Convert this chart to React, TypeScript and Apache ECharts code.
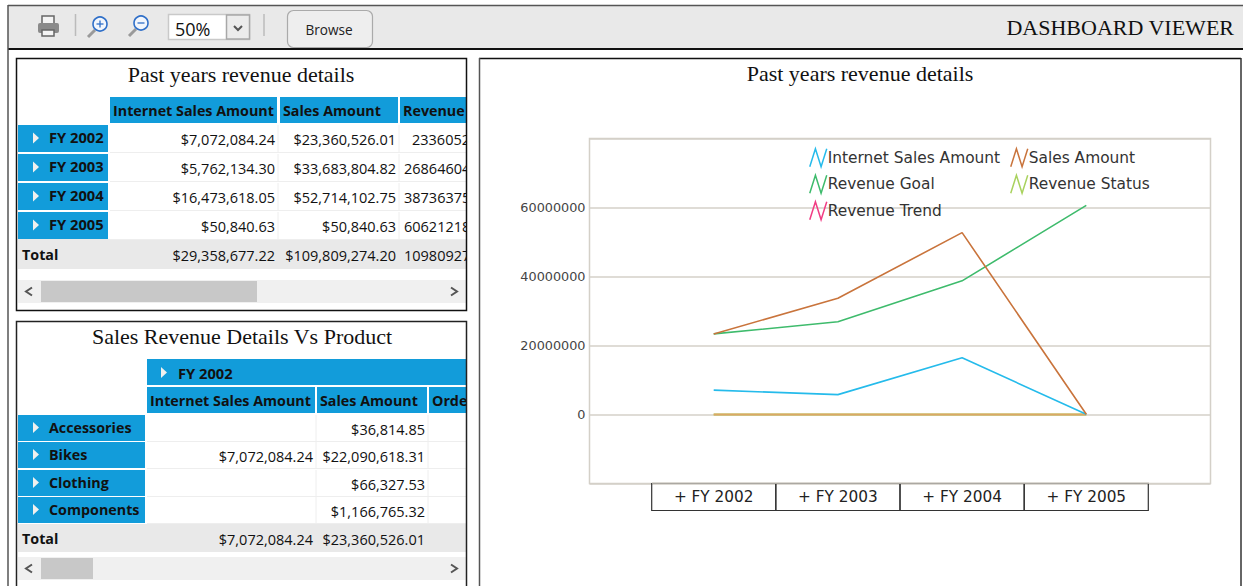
import React, { useEffect, useRef } from "react";
import * as echarts from "echarts";

const chartTitle = "Past years revenue details";
const productTitle = "Sales Revenue Details Vs Product";
const viewerTitle = "DASHBOARD VIEWER";
const zoomLevel = "50%";
const browseLabel = "Browse";

const axisCategories = ["", "FY 2002", "FY 2003", "FY 2004", "FY 2005", ""];
const internetSales = [null, 7072084.24, 5762134.3, 16473618.05, 50840.63, null];
const salesAmount = [null, 23360526.01, 33683804.82, 52714102.75, 50840.63, null];
const revenueGoal = [null, 23360520, 26864604, 38736375, 60621218, null];
const revenueStatus = [null, 0, 0, 0, 0, null];
const revenueTrend = [null, 0, 0, 0, 0, null];

const yearHeaders = ["Internet Sales Amount", "Sales Amount", "Revenue"];
const yearRows = ["FY 2002", "FY 2003", "FY 2004", "FY 2005"];
const yearInternet = ["$7,072,084.24", "$5,762,134.30", "$16,473,618.05", "$50,840.63", "$29,358,677.22"];
const yearSales = ["$23,360,526.01", "$33,683,804.82", "$52,714,102.75", "$50,840.63", "$109,809,274.20"];
const yearRevenue = ["23360526", "26864604", "38736375", "60621218", "10980927"];

const productHeaders = ["Internet Sales Amount", "Sales Amount", "Orde"];
const productRows = ["Accessories", "Bikes", "Clothing", "Components"];
const productInternet = ["", "$7,072,084.24", "", "", "$7,072,084.24"];
const productSales = ["$36,814.85", "$22,090,618.31", "$66,327.53", "$1,166,765.32", "$23,360,526.01"];

const BLUE = "#129cda";
const UI = '"Open Sans", "Noto Sans", sans-serif';
const SERIF = '"Liberation Serif", serif';
const VERD = '"DejaVu Sans", sans-serif';

const rect = (x: number, y: number, w: number, h: number, fill: string, z = 1, extra: any = {}) => ({
  type: "rect", z, shape: { x, y, width: w, height: h, ...(extra.shape || {}) },
  style: { fill, stroke: extra.stroke, lineWidth: extra.lineWidth },
});
const text = (x: number, y: number, t: string, font: string, fill = "#111", align = "left", z = 10) => ({
  type: "text", z, x, y, style: { text: t, font, fill, align, verticalAlign: "middle" },
});
const seg = (x1: number, y1: number, x2: number, y2: number, stroke: string, lineWidth = 1, z = 30) => ({
  type: "line", z, shape: { x1, y1, x2, y2 }, style: { stroke, lineWidth },
});
const poly = (pts: number[][], fill: string, z = 11) => ({ type: "polygon", z, shape: { points: pts }, style: { fill } });
const chevron = (pts: number[][], stroke: string, lineWidth = 2, z = 11) => ({
  type: "polyline", z, shape: { points: pts }, style: { stroke, lineWidth, fill: "none" },
});

const HDR = `bold 14.3px ${UI}`;
const CELL = `14.5px ${UI}`;

function table(cfg: {
  rowX: number; rowW: number; cols: number[][]; headY: number; headH: number; headers: string[];
  rowYs: number[]; rowH: number; rows: string[]; a: string[]; b: string[]; c?: string[];
  totalY: number; totalH: number; sbY: number; thumbW: number; rowFont: string; rowDy: number;
}) {
  const out: any[] = [];
  cfg.cols.forEach((c, i) => {
    out.push(rect(c[0], cfg.headY, c[1] - c[0], cfg.headH, BLUE));
    out.push(text(c[0] + 3, cfg.headY + cfg.headH / 2, cfg.headers[i], HDR));
  });
  const right = 466;
  const cellText = (col: number[], val: string, cy: number, leftAlign: boolean, indent = 0) =>
    val ? text(leftAlign ? col[0] + 4 + indent : col[1] - 2, cy, val, CELL, "#111", leftAlign ? "left" : "right") : null;
  cfg.rows.forEach((r, i) => {
    const y = cfg.rowYs[i];
    const cy = y + cfg.rowH / 2;
    out.push(rect(cfg.rowX, y, cfg.rowW, cfg.rowH, BLUE));
    out.push(poly([[33, cy - 6], [33, cy + 5], [39, cy - 0.5]], "#f0f0ee"));
    out.push(text(49, cy + cfg.rowDy, r, cfg.rowFont));
    out.push(seg(cfg.cols[0][0], y + cfg.rowH + 0.5, right, y + cfg.rowH + 0.5, "#eeeeee", 1, 2));
    cfg.cols.forEach((c, k) => {
      if (k < 2) out.push(seg(c[1] + 1, y, c[1] + 1, y + cfg.rowH, "#eeeeee", 1, 2));
    });
    [cfg.a, cfg.b].forEach((arr, k) => {
      const t = cellText(cfg.cols[k], arr[i], cy + 1, false);
      if (t) out.push(t);
    });
    if (cfg.c) out.push(cellText(cfg.cols[2], cfg.c[i], cy + 1, true, i === 0 ? 8 : 0));
  });
  out.push(rect(cfg.rowX, cfg.totalY, right - cfg.rowX, cfg.totalH, "#e9e9e9"));
  out.push(text(22, cfg.totalY + cfg.totalH / 2, "Total", HDR));
  [cfg.a, cfg.b].forEach((arr, k) => {
    out.push(cellText(cfg.cols[k], arr[4], cfg.totalY + cfg.totalH / 2 + 1, false));
  });
  if (cfg.c) out.push(cellText(cfg.cols[2], cfg.c[4], cfg.totalY + cfg.totalH / 2 + 1, true));
  // scrollbar
  out.push(rect(cfg.rowX, cfg.sbY, right - cfg.rowX, 23, "#f0f0f0"));
  out.push(rect(41, cfg.sbY + 1, cfg.thumbW, 21, "#c8c8c8", 2));
  const m = cfg.sbY + 11.5;
  out.push(chevron([[32, m - 4], [26, m], [32, m + 4]], "#555"));
  out.push(chevron([[451, m - 4], [457, m], [451, m + 4]], "#555"));
  return out.filter(Boolean);
}

const magnifier = (cx: number, cy: number, sign: string) => [
  { type: "circle", z: 5, shape: { cx, cy, r: 7 }, style: { fill: "#f2f6fc", stroke: "#2f6fc8", lineWidth: 1.6 } },
  seg(cx - 5, cy + 6, cx - 12, cy + 13, "#9a9a9a", 3, 4),
  seg(cx - 3.5, cy, cx + 3.5, cy, "#2f6fc8", 1.3, 6),
  ...(sign === "+" ? [seg(cx, cy - 3.5, cx, cy + 3.5, "#2f6fc8", 1.3, 6)] : []),
];

function buildGraphic() {
  const els: any[] = [
    // toolbar
    rect(8, 5, 1235, 43, "#e9e9e9"),
    seg(8, 5.5, 1243, 5.5, "#555", 1.5),
    seg(8, 49, 1243, 49, "#111", 2),
    seg(8, 5, 8, 586, "#555", 1.5),
    // printer
    rect(42, 16, 12, 8, "#f4f4f4", 3, { stroke: "#666", lineWidth: 1.5 }),
    rect(38, 23, 21, 10, "#8a8a8a", 3, { shape: { r: 2 } }),
    rect(42, 30, 12, 6, "#f4f4f4", 4, { stroke: "#666", lineWidth: 1.5 }),
    seg(75.5, 14, 75.5, 36, "#bbbbbb", 1.5),
    ...magnifier(100, 24, "+"),
    ...magnifier(141, 23, "-"),
    // zoom combo
    rect(168.5, 14.5, 81, 25, "#ffffff", 3, { stroke: "#c9c9c9", lineWidth: 1.5 }),
    rect(226.5, 15, 23, 24, "#ececec", 4, { stroke: "#a8a8a8", lineWidth: 1.5 }),
    chevron([[234, 26], [238, 30], [242, 26]], "#555", 2, 5),
    text(175, 29, zoomLevel, `18px ${UI}`, "#111"),
    seg(264, 14, 264, 36, "#bbbbbb", 1.5),
    // browse button
    { type: "rect", z: 3, shape: { x: 287.5, y: 10.5, width: 85, height: 37, r: 6 }, style: { fill: "#eeeeee", stroke: "#aaaaaa", lineWidth: 1.2 } },
    text(329, 29, browseLabel, `13.6px ${UI}`, "#222", "center"),
    text(1234, 27.5, viewerTitle, `22px ${SERIF}`, "#111", "right"),
    // table panel 1
    text(241, 74, chartTitle, `22px ${SERIF}`, "#111", "center"),
    ...table({
      rowX: 18, rowW: 90, cols: [[110, 277], [280, 398], [400, 470]], headY: 97, headH: 26, headers: yearHeaders,
      rowYs: [125, 154, 183, 212], rowH: 27, rows: yearRows, a: yearInternet, b: yearSales, c: yearRevenue,
      totalY: 239, totalH: 30, sbY: 280, thumbW: 216, rowFont: `bold 14.7px ${UI}`, rowDy: -2,
    }),
    // table panel 2
    text(242, 336.5, productTitle, `22px ${SERIF}`, "#111", "center"),
    rect(147, 359, 323, 26, BLUE),
    poly([[161, 367], [161, 378], [167, 372.5]], "#f0f0ee"),
    text(178, 373, "FY 2002", `bold 14.7px ${UI}`),
    ...table({
      rowX: 18, rowW: 127, cols: [[147, 315], [317, 427], [429, 470]], headY: 387, headH: 26, headers: productHeaders,
      rowYs: [415, 442, 470, 497], rowH: 26, rows: productRows, a: productInternet, b: productSales,
      totalY: 524, totalH: 28, sbY: 557, thumbW: 52, rowFont: `bold 14.3px ${UI}`, rowDy: -0.5,
    }),
    // clip edge for the cut-off column and the panel borders
    rect(467, 55, 11, 531, "#ffffff", 20),
    { type: "rect", z: 30, shape: { x: 16.5, y: 58.5, width: 450, height: 252 }, style: { fill: "none", stroke: "#111", lineWidth: 1.5 } },
    { type: "rect", z: 30, shape: { x: 16.5, y: 321.5, width: 450, height: 270 }, style: { fill: "none", stroke: "#222", lineWidth: 1.5 } },
    // chart panel
    seg(479, 58.5, 1241, 58.5, "#111", 1.5),
    seg(479.5, 58, 479.5, 586, "#555", 1.5),
    seg(1241, 58, 1241, 586, "#333", 1.5),
    // plot edge hides the top edge of the category boxes
    seg(652, 483, 1149, 483, "#d4d0c8", 1.5, 100),
  ];
  return els;
}

const legendIcon = "path://M0 18L5.67 0L11.33 18L17 0";
const legendBase = (left: number, top: number, names: any[]) => ({
  left, top, padding: 0, orient: "vertical" as const, itemWidth: 17, itemHeight: 18, itemGap: 7, selectedMode: false,
  textStyle: { fontFamily: VERD, fontSize: 15.4, color: "#333", padding: [0, 0, 0, -4] },
  icon: legendIcon,
  data: names,
});
const iconStyle = (c: string) => ({ icon: legendIcon, itemStyle: { color: "transparent", borderColor: c, borderWidth: 1.5 } });

const COLORS = { internet: "#25bbeb", sales: "#c9743c", goal: "#3ebb6c", status: "#a9d25e", trend: "#f23c84", zero: "#dca865" };

export default function App() {
  const ref = useRef<HTMLDivElement>(null);
  useEffect(() => {
    document.body.style.margin = "0";
    document.body.style.background = "#ffffff";
    const chart = echarts.init(ref.current!, undefined, { renderer: "svg" });
    const line = (name: string, data: any[], color: string, width = 1.6) => ({
      name, type: "line", data, showSymbol: false, symbol: "none", connectNulls: false,
      itemStyle: { color }, lineStyle: { color, width },
    });
    chart.setOption({
      animation: false,
      backgroundColor: "#ffffff",
      title: {
        text: chartTitle, left: 855, top: 57.5, textAlign: "center",
        textStyle: { fontFamily: SERIF, fontSize: 22, fontWeight: "normal", color: "#111" },
      },
      grid: {
        left: 589.5, top: 138.5, width: 621, height: 345, show: true, outerBoundsMode: "none", containLabel: false,
        borderColor: "#d4d0c8", borderWidth: 1.5, backgroundColor: "#fff",
      },
      legend: [
        legendBase(809, 148, [
          { name: "Internet Sales Amount", ...iconStyle(COLORS.internet) },
          { name: "Revenue Goal", ...iconStyle(COLORS.goal) },
          { name: "Revenue Trend", ...iconStyle(COLORS.trend) },
        ]),
        legendBase(1010, 148, [
          { name: "Sales Amount", ...iconStyle(COLORS.sales) },
          { name: "Revenue Status", ...iconStyle(COLORS.status) },
        ]),
      ],
      xAxis: {
        type: "category", boundaryGap: false,
        data: axisCategories.map((v) => (v ? v : { value: v, textStyle: { borderWidth: 0, borderColor: "transparent" } })),
        axisLine: { show: false }, axisTick: { show: false }, splitLine: { show: false },
        axisLabel: {
          interval: 0, margin: 0, formatter: (v: string) => (v ? `+ ${v}` : ""),
          fontFamily: VERD, fontSize: 15.3, color: "#222",
          width: 124, height: 27, lineHeight: 27, align: "center", verticalAlign: "top",
          borderColor: "#333", borderWidth: 1.2,
        },
      },
      yAxis: {
        type: "value", min: -20000000, max: 80000000, interval: 20000000,
        axisLine: { show: false }, axisTick: { show: false },
        splitLine: { lineStyle: { color: "#d4d0c8", width: 1.5 } },
        axisLabel: {
          margin: 4, fontFamily: VERD, fontSize: 12.8, color: "#444",
          formatter: (v: number) => (v < 0 || v > 60000000 ? "" : String(v)),
        },
      },
      series: [
        line("Revenue Status", revenueStatus, COLORS.status, 2),
        line("Revenue Trend", revenueTrend, COLORS.zero, 2),
        line("Revenue Goal", revenueGoal, COLORS.goal),
        line("Internet Sales Amount", internetSales, COLORS.internet),
        line("Sales Amount", salesAmount, COLORS.sales),
      ],
      graphic: { elements: buildGraphic() },
    });
    return () => chart.dispose();
  }, []);
  return <div ref={ref} style={{ position: "absolute", left: 0, top: 0, width: 1243, height: 586 }} />;
}
